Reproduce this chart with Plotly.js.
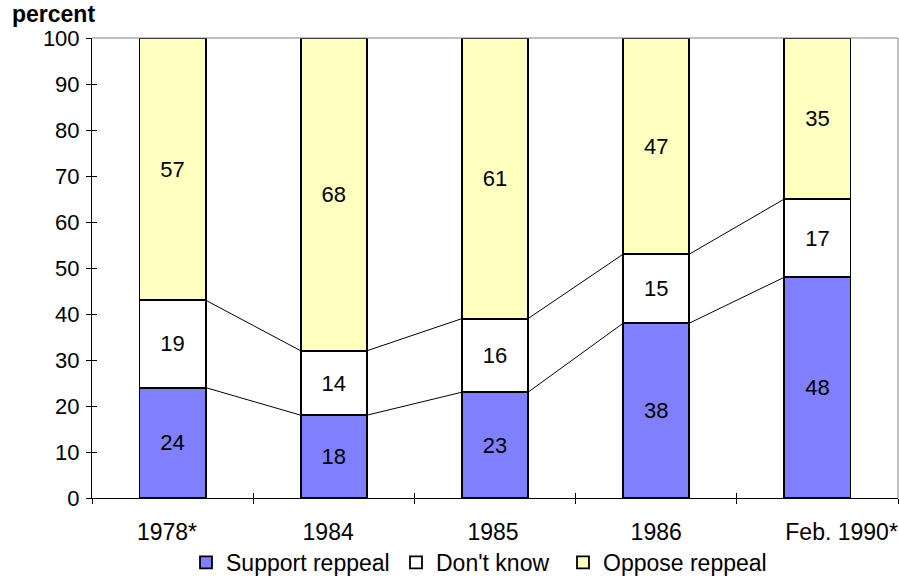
<!DOCTYPE html>
<html>
<head>
<meta charset="utf-8">
<script src="https://cdn.plot.ly/plotly-3.0.1.min.js"></script>
<style>html,body{margin:0;padding:0;background:#fff}#chart{width:899px;height:578px}</style>
</head>
<body>
<div id="chart"></div>
<script>
const categories = ["1978*", "1984", "1985", "1986", "Feb. 1990*"];
const supportRepeal = [24, 18, 23, 38, 48];
const dontKnow = [19, 14, 16, 15, 17];
const opposeRepeal = [57, 68, 61, 47, 35];

const FONT = "Liberation Sans, Arial, sans-serif";
const FS = 22;
const FS_BIG = 23;
const W = 0.41;
const xs = categories.map((_, i) => i);
// small horizontal nudges of the category labels (layout only)
const labelNudge = [-0.035, -0.035, -0.012, 0, 0.15];
const legendWidths = [165, 122, 170];

function barTrace(name, vals, color, lw) {
  return {
    type: "bar", name: name, x: xs, y: vals,
    width: W, legendwidth: lw,
    marker: {color: color, line: {color: "#000", width: 1.8}},
    text: vals.map(String), textposition: "inside", insidetextanchor: "middle",
    textangle: 0, constraintext: "none",
    textfont: {family: FONT, size: FS, color: "#000"},
    hoverinfo: "skip"
  };
}

// series lines connecting segment tops between bars
function seriesLine(levels) {
  const x = [], y = [];
  for (let i = 0; i < levels.length - 1; i++) {
    x.push(i + W / 2, i + 1 - W / 2, null);
    y.push(levels[i], levels[i + 1], null);
  }
  return {type: "scatter", mode: "lines", x: x, y: y, showlegend: false,
          line: {color: "#000", width: 1}, hoverinfo: "skip"};
}
const cum1 = supportRepeal.slice();
const cum2 = supportRepeal.map((v, i) => v + dontKnow[i]);

const data = [
  barTrace("Support reppeal", supportRepeal, "#8080ff", legendWidths[0]),
  barTrace("Don't know", dontKnow, "#ffffff", legendWidths[1]),
  barTrace("Oppose reppeal", opposeRepeal, "#ffffc0", legendWidths[2]),
  seriesLine(cum1),
  seriesLine(cum2)
];

const bounds = categories.map((_, i) => i - 0.5).concat([categories.length - 0.5]);

const layout = {
  width: 899, height: 578,
  margin: {l: 92, r: 1, t: 38, b: 80, autoexpand: false},
  paper_bgcolor: "#fff", plot_bgcolor: "#fff",
  barmode: "stack",
  font: {family: FONT, size: FS, color: "#000"},
  showlegend: true,
  legend: {orientation: "h", x: (186 - 92) / 806, xanchor: "left", y: -0.14, yanchor: "middle",
           font: {family: FONT, size: FS_BIG, color: "#000"}, traceorder: "normal",
           itemwidth: 30, tracegroupgap: 0, bgcolor: "rgba(0,0,0,0)"},
  xaxis: {range: [-0.5, 4.5], tickvals: xs.map((v, i) => v + labelNudge[i]), ticktext: categories, ticks: "",
          tickfont: {family: FONT, size: FS_BIG, color: "#000"},
          showgrid: false, zeroline: false, showline: true, linecolor: "#000", linewidth: 1,
          ticklabelstandoff: 13, fixedrange: true},
  xaxis2: {overlaying: "x", range: [-0.5, 4.5], tickvals: bounds, ticks: "outside", ticklen: 5,
           tickcolor: "#000", showticklabels: false, showgrid: false, zeroline: false, showline: false},
  xaxis3: {overlaying: "x", range: [-0.5, 4.5], tickvals: bounds, ticks: "inside", ticklen: 5,
           tickcolor: "#000", showticklabels: false, showgrid: false, zeroline: false, showline: false},
  yaxis: {range: [0, 100], dtick: 10, ticks: "outside", ticklen: 5, tickcolor: "#000",
          showgrid: false, zeroline: false, showline: true, linecolor: "#000", linewidth: 1,
          ticklabelstandoff: 2, fixedrange: true},
  yaxis2: {overlaying: "y", range: [0, 100], dtick: 10, ticks: "inside", ticklen: 5, tickcolor: "#000",
           showticklabels: false, showgrid: false, zeroline: false, showline: false},
  shapes: [
    {type: "line", xref: "paper", yref: "paper", x0: 0, x1: 1, y0: 1, y1: 1, line: {color: "#808080", width: 1}},
    {type: "line", xref: "paper", yref: "paper", x0: 1, x1: 1, y0: 0, y1: 1, line: {color: "#808080", width: 1}}
  ],
  annotations: [
    {text: "<b>percent</b>", xref: "paper", yref: "paper", x: (10 - 92) / 806, y: 1.0, xanchor: "left", yanchor: "bottom",
     yshift: 9, showarrow: false, font: {family: FONT, size: FS_BIG, color: "#000"}}
  ]
};

// empty helper traces so the overlay axes draw the crossing boundary ticks
data.push({type: "scatter", x: [0], y: [0], xaxis: "x2", yaxis: "y2", mode: "none", showlegend: false, hoverinfo: "skip"});
data.push({type: "scatter", x: [0], y: [0], xaxis: "x3", yaxis: "y2", mode: "none", showlegend: false, hoverinfo: "skip"});

Plotly.newPlot("chart", data, layout, {displayModeBar: false, staticPlot: true});
</script>
</body>
</html>
